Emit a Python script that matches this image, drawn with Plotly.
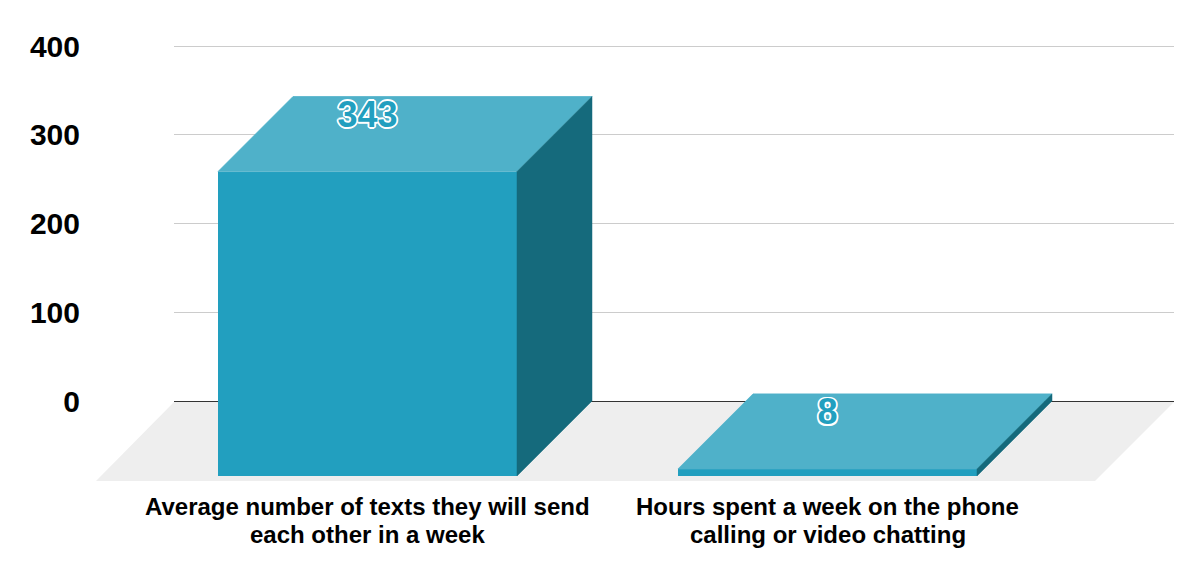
import plotly.graph_objects as go

category_lines = [["Average number of texts they will send", "each other in a week"],
                  ["Hours spent a week on the phone", "calling or video chatting"]]
values = [343, 8]
y_ticks = [0, 100, 200, 300, 400]

W, H = 1203, 578
FONT = "Liberation Sans, Arial, sans-serif"
FRONT, TOP, SIDE = "#229fbf", "#4fb1c9", "#156a7c"
FLOOR, GRID = "#eeeeee", "#cccccc"

# pixel geometry of the plot
PX_Y0, PX_Y400 = 401.0, 46.0
PX_PER_UNIT = (PX_Y0 - PX_Y400) / 400
PX_PER_CAT = 460.0
PX_CAT0 = 367.5
DEPTH_PX = 75.0
BAR_W = 299.0 / PX_PER_CAT
DX = DEPTH_PX / PX_PER_CAT
DY = DEPTH_PX / PX_PER_UNIT


def xv(p):
    return (p - PX_CAT0) / PX_PER_CAT


def yv(p):
    return (PX_Y0 - p) / PX_PER_UNIT


fig = go.Figure()
xs = list(range(len(category_lines)))

# dummy trace so that the back-wall axes exist
fig.add_trace(go.Scatter(x=[xs[0]], y=[y_ticks[0]], xaxis="x", yaxis="y", mode="markers",
                         marker=dict(opacity=0), hoverinfo="skip", showlegend=False))

# front faces
fig.add_trace(go.Bar(x=xs, y=values, base=[-DY] * len(values), width=BAR_W, xaxis="x2", yaxis="y2",
                     marker=dict(color=FRONT, line=dict(width=0)), showlegend=False, hoverinfo="skip"))

# top and side faces
for x, v in zip(xs, values):
    l, r = x - BAR_W / 2, x + BAR_W / 2
    t = v - DY
    fig.add_trace(go.Scatter(x=[l, r, r + DX, l + DX, l], y=[t, t, v, v, t], xaxis="x2", yaxis="y2",
                             mode="lines", fill="toself", fillcolor=TOP, line=dict(width=0.8, color=TOP),
                             showlegend=False, hoverinfo="skip"))
    fig.add_trace(go.Scatter(x=[r, r + DX, r + DX, r, r], y=[-DY, 0, v, t, -DY], xaxis="x2", yaxis="y2",
                             mode="lines", fill="toself", fillcolor=SIDE, line=dict(width=0.5, color=SIDE),
                             showlegend=False, hoverinfo="skip"))

# data labels
w = "#ffffff"
outline = ",".join(f"{a}px {b}px 0 {w}" for a, b in
                   [(1.8, 0), (-1.8, 0), (0, 1.8), (0, -1.8), (1.3, 1.3), (-1.3, 1.3), (1.3, -1.3), (-1.3, -1.3)])
fig.add_trace(go.Scatter(x=xs, y=[v - 21.5 / PX_PER_UNIT for v in values], text=[str(v) for v in values],
                         xaxis="x2", yaxis="y2", mode="text", textposition="middle center",
                         textfont=dict(family=FONT, size=36, color=FRONT, weight="bold", shadow=outline),
                         cliponaxis=False, showlegend=False, hoverinfo="skip"))

# floor
fig.add_shape(type="path", xref="x2", yref="y2", layer="below", line=dict(width=0), fillcolor=FLOOR,
              path=f"M {xv(174)} {yv(402)} L {xv(1174)} {yv(402)} L {xv(1095)} {yv(481)} L {xv(96)} {yv(481)} Z")

# category labels, one annotation per line for the reference's tight line spacing
for x, lines in zip(xs, category_lines):
    for i, line in enumerate(lines):
        fig.add_annotation(x=x, y=yv(506.5 + 28 * i), xref="x2", yref="y2", text=line, showarrow=False,
                           xanchor="center", yanchor="middle",
                           font=dict(family=FONT, size=24, color="#000000", weight="bold"))

fig.update_layout(
    width=W, height=H, margin=dict(l=0, r=0, t=0, b=0, autoexpand=False),
    paper_bgcolor="white", plot_bgcolor="rgba(0,0,0,0)", bargap=0,
    xaxis=dict(domain=[174 / W, 1174 / W], range=[xv(174), xv(1174)], showgrid=False, showticklabels=False,
               zeroline=False, showline=False, ticks="", automargin=False),
    yaxis=dict(domain=[(H - PX_Y0) / H, (H - 40) / H], range=[0, yv(40)], tickvals=y_ticks,
               showgrid=True, gridcolor=GRID, gridwidth=1, zeroline=True, zerolinecolor="#333333", zerolinewidth=1,
               showline=False, ticks="", ticklabelstandoff=93, automargin=False,
               tickfont=dict(family=FONT, size=30, color="#000000", weight="bold")),
    xaxis2=dict(domain=[90 / W, 1180 / W], range=[xv(90), xv(1180)], anchor="y2", tickvals=xs,
                showticklabels=False, showgrid=False, zeroline=False, showline=False, ticks="", automargin=False),
    yaxis2=dict(domain=[0, (H - 46) / H], range=[yv(H), yv(46)], anchor="x2", visible=False,
                automargin=False),
)
fig.write_html("out.html", config=dict(displayModeBar=False),
               post_script="document.body.style.margin='0';document.body.style.overflow='hidden';")
